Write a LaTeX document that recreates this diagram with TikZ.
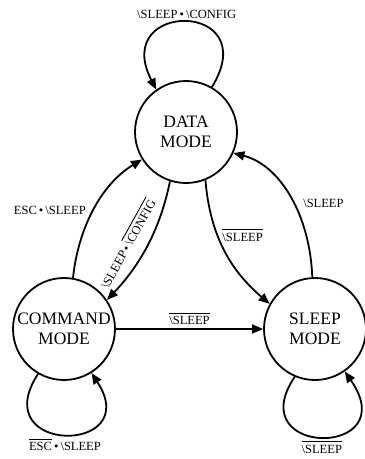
\documentclass[tikz,border=0pt]{standalone}
\usepackage{fontspec}
\setmainfont{Liberation Serif}
\usetikzlibrary{arrows.meta}
\newcommand{\ovl}[1]{\leavevmode\vbox{\hrule height 0.9pt\kern3pt\hbox{#1}}}
\newcommand{\bs}{\textbackslash}
\newcommand{\dotsep}{\,•\,}
\begin{document}
\begin{tikzpicture}[x=1pt,y=-1pt,
  state/.style={circle,draw,line width=1.8pt,minimum size=102pt,inner sep=0pt,align=center,font=\fontsize{17.5}{20}\selectfont},
  trans/.style={line width=1.8pt,-{Triangle[length=11pt,width=9pt]}},
  lbl/.style={font=\fontsize{12.5}{14}\selectfont,inner sep=1pt}]
\useasboundingbox (0,0) rectangle (365,459);
\node[state] (data) at (186,132) {DATA\\MODE};
\node[state] (cmd) at (64,329) {COMMAND\\MODE};
\node[state] (sleep) at (315,329) {SLEEP\\MODE};
% loops
\draw[trans] (data.60) .. controls (265,0) and (110,0) .. (data.125)
  node[lbl,pos=0.5,above=2pt] (l1) {\bs SLEEP\dotsep\bs CONFIG};
\draw[trans] (cmd.240) .. controls (-15,455) and (145,455) .. (cmd.302)
  node[lbl,pos=0.5,below=2pt] (l2) {\ovl{ESC}\dotsep\bs SLEEP};
\draw[trans] (sleep.247) .. controls (240,458) and (405,458) .. (sleep.305)
  node[lbl,pos=0.5,below=2pt] (l3) {\ovl{\bs SLEEP}};
% transitions
\draw[trans] (cmd.80) .. controls (78,230) and (100,185) .. (data.212)
  node[lbl,pos=0.5,left=6pt] (l4) {ESC\dotsep\bs SLEEP};
\draw[trans] (data.252) .. controls (160,230) and (140,265) .. (cmd.34);
\node[lbl,rotate=61] (l5) at (127,243) {\bs SLEEP\dotsep\ovl{\bs CONFIG}};
\draw[trans] (data.292) .. controls (210,235) and (230,270) .. (sleep.151)
  node[lbl,pos=0.38,right=3pt] (l6) {\ovl{\bs SLEEP}};
\draw[trans] (sleep.93) .. controls (310,215) and (280,165) .. (data.-24)
  node[lbl,pos=0.45,right=8pt] (l7) {\bs SLEEP};
\draw[trans] (cmd) -- (sleep)
  node[lbl,midway,above=2pt] (l8) {\ovl{\bs SLEEP}};
\end{tikzpicture}
\end{document}
